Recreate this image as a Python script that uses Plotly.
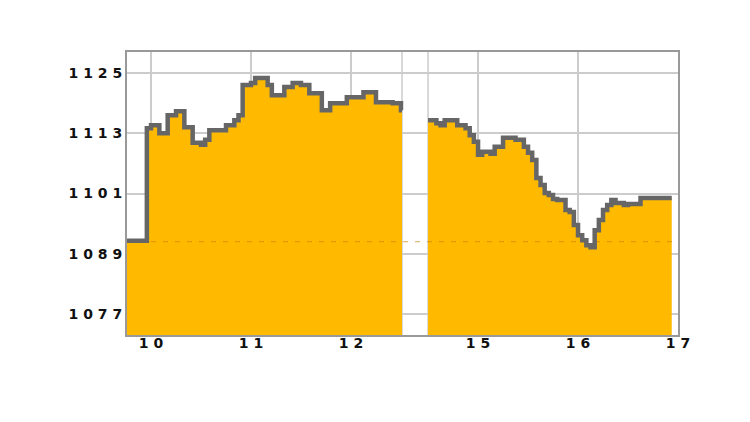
import pandas as pd
import plotly.graph_objects as go

# previous close, drawn as the dashed reference line
PREV_CLOSE = 1091.4

# hourly levels: evening of the 9th .. midday Fri 12th
wk1_vals = [
    1091.6, 1091.6, 1091.6, 1091.6, 1091.6, 1114.0,
    1114.6, 1114.6, 1113.0, 1113.0, 1116.6, 1116.6, 1117.4, 1117.4,
    1114.2, 1114.2, 1111.1, 1111.1, 1110.7, 1111.7, 1113.6, 1113.6,
    1113.6, 1113.6, 1114.6, 1114.6, 1115.6, 1116.6, 1122.6, 1122.6,
    1123.0, 1124.0, 1124.0, 1124.0, 1122.6, 1120.6, 1120.6, 1120.6,
    1122.2, 1122.2, 1123.0, 1123.0, 1122.6, 1122.6, 1121.0, 1121.0,
    1121.0, 1117.6, 1117.6, 1119.0, 1119.0, 1119.0, 1119.0, 1120.2,
    1120.2, 1120.2, 1120.2, 1121.2, 1121.2, 1121.2, 1119.2, 1119.2,
    1119.2, 1119.2, 1119.0, 1119.0, 1117.6,
]
# hourly levels: midday 14th .. late 16th
wk2_vals = [
    1115.6, 1115.6, 1115.0, 1114.6, 1115.6, 1115.6, 1115.6, 1114.6,
    1114.6, 1114.0, 1112.6, 1111.3, 1108.7, 1109.3, 1109.3, 1108.9,
    1110.3, 1110.3, 1112.1, 1112.1, 1112.1, 1111.7, 1111.7, 1110.3,
    1109.1, 1107.7, 1104.1, 1102.7, 1101.1, 1100.7, 1099.9, 1099.7,
    1099.7, 1097.7, 1097.3, 1094.7, 1092.7, 1091.7, 1090.7, 1090.3,
    1093.7, 1095.7, 1097.7, 1098.7, 1099.7, 1099.1, 1099.1, 1098.7,
    1098.9, 1098.9, 1098.9, 1100.1, 1100.1, 1100.1, 1100.1, 1100.1,
    1100.1, 1100.1, 1100.1,
]

y_ticks = [1077, 1089, 1101, 1113, 1125]
x_tick_days = ["2010-02-10", "2010-02-11", "2010-02-12",
               "2010-02-15", "2010-02-16", "2010-02-17"]
x_tick_labels = ["10", "11", "12", "15", "16", "17"]

FILL = "#FFBA00"
LINE = "#666666"
GRID = "#cccccc"


def spaced(s):
    # the original uses a wide, letter-spaced bitmap font
    return " ".join(str(s))


wk1_t = list(pd.date_range("2010-02-09 18:00", periods=len(wk1_vals), freq="h"))
wk1_t.append(pd.Timestamp("2010-02-12 12:15"))
wk1_v = wk1_vals + wk1_vals[-1:]

wk2_t = list(pd.date_range("2010-02-14 12:00", periods=len(wk2_vals), freq="h"))
wk2_t.append(pd.Timestamp("2010-02-16 22:30"))
wk2_v = wk2_vals + wk2_vals[-1:]

segments = [(wk1_t, wk1_v), (wk2_t, wk2_v)]
x_range = ["2010-02-09 18:14", "2010-02-17 00:00"]

fig = go.Figure()

for t, v in segments:
    fig.add_trace(go.Scatter(
        x=t, y=v, mode="lines",
        line=dict(width=0, shape="hv"),
        fill="tozeroy", fillcolor=FILL,
        hoverinfo="skip", showlegend=False,
    ))

fig.add_trace(go.Scatter(
    x=x_range, y=[PREV_CLOSE, PREV_CLOSE], mode="lines",
    line=dict(color="rgba(190,120,0,0.5)", width=1.2, dash="5px,7px"),
    hoverinfo="skip", showlegend=False,
))

for t, v in segments:
    fig.add_trace(go.Scatter(
        x=t, y=v, mode="lines",
        line=dict(color=LINE, width=4.5, shape="hv"),
        showlegend=False,
    ))

# edges of the weekend gap
for edge in ["2010-02-12 12:15", "2010-02-14 12:00"]:
    fig.add_shape(type="line", x0=edge, x1=edge, y0=0, y1=1,
                  xref="x", yref="paper", layer="below",
                  line=dict(color=GRID, width=1.5))

tick_font = dict(family="DejaVu Sans", size=14, color="#111111", weight="bold")

fig.update_xaxes(
    type="date",
    range=x_range,
    rangebreaks=[dict(bounds=["2010-02-12 18:30", "2010-02-14 12:00"])],
    tickmode="array",
    tickvals=x_tick_days,
    ticktext=[spaced(s) for s in x_tick_labels],
    tickfont=tick_font,
    ticklabelstandoff=-6,
    showgrid=True, gridcolor=GRID, gridwidth=1.5,
    showline=True, mirror=True, linecolor="#999999", linewidth=2,
    ticks="", zeroline=False,
)
fig.update_yaxes(
    range=[1072.8, 1129.2],
    tickmode="array",
    tickvals=y_ticks,
    ticktext=[spaced(s) for s in y_ticks],
    tickfont=tick_font,
    showgrid=True, gridcolor=GRID, gridwidth=1.5,
    showline=True, mirror=True, linecolor="#999999", linewidth=2,
    ticks="", zeroline=False,
)

# the page body adds 8px around the figure
fig.update_layout(
    width=742, height=414,
    margin=dict(l=119, r=72, t=44, b=87),
    paper_bgcolor="white",
    plot_bgcolor="white",
    hovermode=False,
)

fig.write_html("out.html")
